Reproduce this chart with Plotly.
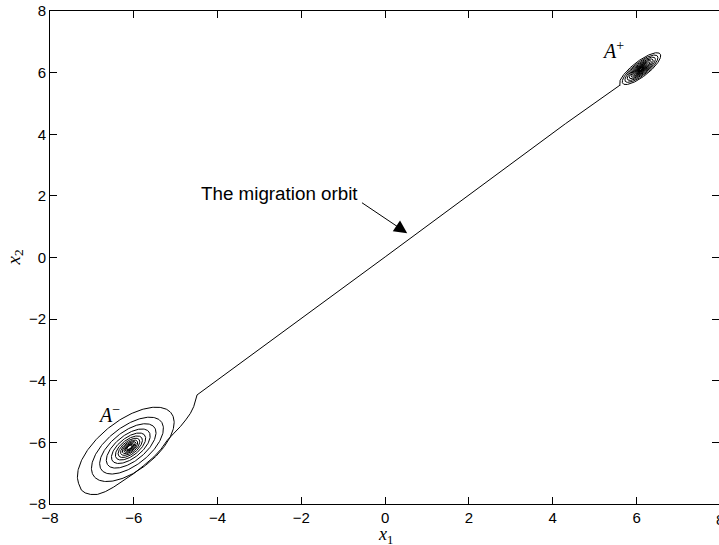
import numpy as np
import plotly.graph_objects as go

# ---- data (data units) ----
# A- focus: centre and major semi-axis at each lower-left tip of the spiral, outer -> inner
am_center = (-6.10, -6.16)
am_tip_radii = [1.73, 1.26, 0.99, 0.77, 0.60, 0.47, 0.38, 0.30, 0.24, 0.19, 0.15, 0.12, 0.095, 0.075]
am_axis_u = (0.685, 0.729)   # major-axis direction
am_axis_v = (-0.26, 0.45)    # minor-axis vector per unit major

# connector from the outer loop of A- to the straight migration orbit
conn_x = [-7.25, -7.16, -7.03, -6.87, -6.68, -6.48, -6.24, -6.00, -5.76, -5.52,
          -5.35, -5.20, -5.04, -4.89, -4.76, -4.65, -4.57, -4.53, -4.49]
conn_y = [-7.55, -7.64, -7.69, -7.69, -7.60, -7.45, -7.24, -7.01, -6.75, -6.47,
          -6.22, -5.93, -5.70, -5.49, -5.27, -5.06, -4.84, -4.63, -4.46]

# straight part of the migration orbit
orbit_x = [-4.49, 0.0, 4.30, 5.60]
orbit_y = [-4.46, 0.02, 4.34, 5.59]

# A+ focus
ap_center = (6.10, 6.11)
ap_tip_radii = [0.73, 0.63, 0.54, 0.46, 0.39, 0.33, 0.28, 0.24, 0.20, 0.17, 0.145, 0.12, 0.10, 0.085, 0.07, 0.06]
ap_axis_u = (0.685, 0.729)
ap_axis_v = (-0.17, 0.29)

tick_vals = [-8, -6, -4, -2, 0, 2, 4, 6, 8]


def spiral(center, radii, u, v, pts_per_turn=240):
    r_in = np.array(radii[::-1], dtype=float)          # inner -> outer
    n = len(r_in)
    t_knots = np.pi + 2 * np.pi * np.arange(n)
    t = np.linspace(t_knots[0], t_knots[-1], (n - 1) * pts_per_turn + 1)
    r = np.exp(np.interp(t, t_knots, np.log(r_in)))
    x = center[0] + r * (u[0] * np.cos(t) + v[0] * np.sin(t))
    y = center[1] + r * (u[1] * np.cos(t) + v[1] * np.sin(t))
    return x, y


smx, smy = spiral(am_center, am_tip_radii, am_axis_u, am_axis_v)
spx, spy = spiral(ap_center, ap_tip_radii, ap_axis_u, ap_axis_v)

path_x = np.concatenate([smx, conn_x, orbit_x, spx[::-1]])
path_y = np.concatenate([smy, conn_y, orbit_y, spy[::-1]])

fig = go.Figure()
fig.add_trace(go.Scatter(x=path_x, y=path_y, mode="lines",
                         line=dict(color="black", width=1), hoverinfo="skip"))

tickfont = dict(family="Liberation Sans, Arial, sans-serif", size=15, color="black")
axis_common = dict(tickvals=tick_vals, ticks="inside", ticklen=7, tickwidth=1,
                   tickcolor="black", showline=True, linecolor="black", linewidth=1,
                   mirror="ticks", showgrid=False, zeroline=False, tickfont=tickfont)

fig.update_layout(
    width=719, height=545,
    margin=dict(l=50, r=0, t=11, b=41),
    plot_bgcolor="white", paper_bgcolor="white", showlegend=False,
    xaxis=dict(range=[-8, 7.967], **axis_common),
    yaxis=dict(range=[-8, 8], **axis_common),
)

serif = "Liberation Serif, Times New Roman, serif"
# last x tick label, sitting on the (cut) right edge as in the original
fig.add_annotation(x=1, y=0, xref="paper", yref="paper", xanchor="center", yanchor="top",
                   xshift=1.4, yshift=-5, text="8", showarrow=False, font=tickfont)
fig.add_annotation(x=0, y=0, xref="x", yref="paper", yanchor="middle", yshift=-31,
                   text="<i>x</i><sub>1</sub>", showarrow=False, borderpad=0,
                   font=dict(family=serif, size=18, color="black"))
fig.add_annotation(x=0, y=0.5, xref="paper", yref="paper", xanchor="center", xshift=-36,
                   text="<i>x</i><sub>2</sub>", textangle=-90, showarrow=False,
                   font=dict(family=serif, size=19, color="black"))
fig.add_annotation(x=-6.90, y=-5.08, xref="x", yref="y", xanchor="left",
                   text="<i>A</i><sup>−</sup>", showarrow=False,
                   font=dict(family=serif, size=20, color="black"))
fig.add_annotation(x=5.12, y=6.75, xref="x", yref="y", xanchor="left",
                   text="<i>A</i><sup>+</sup>", showarrow=False,
                   font=dict(family=serif, size=20, color="black"))
fig.add_annotation(x=-2.52, y=2.09, xref="x", yref="y",
                   text="The migration orbit", showarrow=False,
                   font=dict(family="Liberation Sans, Arial, sans-serif", size=18.8, color="black"))
fig.add_annotation(x=0.525, y=0.79, ax=-0.59, ay=1.81, xref="x", yref="y",
                   axref="x", ayref="y", text="", showarrow=True,
                   arrowhead=2, arrowsize=2.6, arrowwidth=1, arrowcolor="black")

fig.write_html("out.html")
